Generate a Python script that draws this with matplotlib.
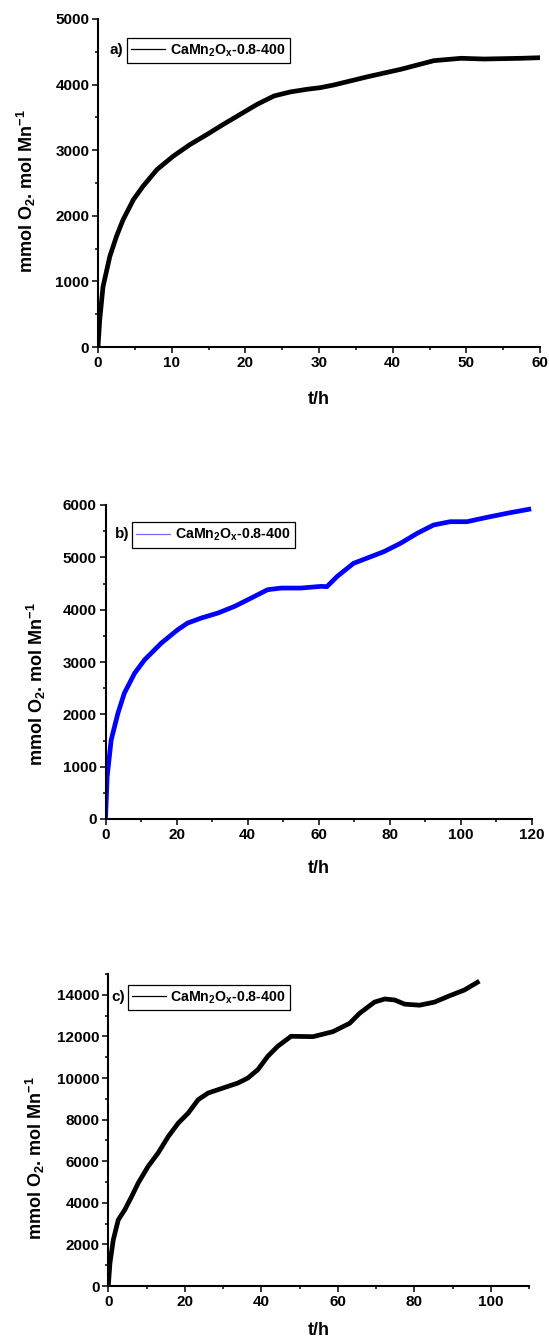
# -*- coding: utf-8 -*-

import matplotlib
matplotlib.use('Agg')
import matplotlib.pyplot as plt
from matplotlib.lines import Line2D
from matplotlib.ticker import MultipleLocator

# data (t in h, O2 in mmol / mol Mn)
#------------------------------------------------------#
ta = [0, 0.23, 0.68, 1.6, 2.5, 3.4, 4.8, 6.1, 8.0, 10.2, 12.5, 14.8, 17.0, 19.3,
      21.6, 23.9, 26.1, 28.4, 30.2, 32.0, 36.6, 41.1, 45.6, 49.3, 52.4, 57.4, 60]
va = [0, 408, 918, 1378, 1684, 1939, 2245, 2449, 2704, 2908, 3087, 3240, 3393, 3546,
      3699, 3827, 3888, 3929, 3954, 3994, 4120, 4233, 4365, 4401, 4390, 4401, 4410]

tb = [0, 0.47, 1.6, 3.5, 5.3, 8.2, 11.0, 15.7, 20.3, 23.1, 26.9, 31.6, 36.3, 41.0,
      45.6, 49.4, 55.0, 60.6, 62.3, 65.1, 69.8, 78.3, 83.0, 87.7, 92.3, 97.0, 101.7,
      107.4, 113.0, 119.1]
vb = [0, 810, 1511, 2022, 2404, 2787, 3042, 3361, 3616, 3744, 3839, 3935, 4062, 4222,
      4381, 4413, 4413, 4445, 4440, 4630, 4886, 5108, 5268, 5459, 5618, 5681, 5681,
      5765, 5842, 5918]

tc = [0, 0.43, 1.3, 2.6, 4.3, 6.1, 7.8, 10.4, 13.0, 15.7, 18.3, 20.9, 23.5, 26.1,
      28.7, 31.3, 33.9, 36.5, 39.1, 41.7, 44.3, 47.8, 53.5, 58.7, 63.1, 65.7, 69.6,
      72.3, 74.9, 77.5, 81.4, 85.3, 89.2, 93.1, 96.5]
vc = [0, 1091, 2215, 3178, 3660, 4302, 4944, 5746, 6388, 7191, 7833, 8315, 8957, 9278,
      9438, 9599, 9759, 10000, 10401, 11043, 11525, 12006, 11987, 12226, 12628, 13109,
      13650, 13800, 13750, 13550, 13500, 13650, 13950, 14230, 14600]

sample_label = r'CaMn$_2$O$_x$-0.8-400'
ylabel = r'mmol O$_2$. mol Mn$^{-1}$'
#------------------------------------------------------#

plt.rcParams['font.family'] = ['Liberation Sans', 'DejaVu Sans']
plt.rcParams['font.weight'] = 'bold'
plt.rcParams['axes.labelweight'] = 'bold'
plt.rcParams['mathtext.fontset'] = 'custom'
plt.rcParams['mathtext.rm'] = 'Liberation Sans:bold'
plt.rcParams['mathtext.it'] = 'Liberation Sans:bold'
plt.rcParams['mathtext.bf'] = 'Liberation Sans:bold'

fontsize = 11
W, H = 549., 1338.


def panel(fig, box, t, v, color, leg_color, tag, xlim, ylim, xmaj, ymaj,
          leg_xy, tag_xy, ylab_xy, xlab_y):
    # box given in pixels: left, top, right, bottom
    l, tp, r, b = box
    ax = fig.add_axes([l / W, 1 - b / H, (r - l) / W, (b - tp) / H])
    ax.plot(t, v, color=color, lw=3.4, solid_joinstyle='round')

    ax.set_xlim(*xlim)
    ax.set_ylim(*ylim)
    ax.xaxis.set_major_locator(MultipleLocator(xmaj))
    ax.xaxis.set_minor_locator(MultipleLocator(xmaj / 2))
    ax.yaxis.set_major_locator(MultipleLocator(ymaj))
    ax.yaxis.set_minor_locator(MultipleLocator(ymaj / 2))

    for s in ['top', 'right']:
        ax.spines[s].set_visible(False)
    for s in ['left', 'bottom']:
        ax.spines[s].set_linewidth(1.5)
    ax.tick_params(which='major', direction='out', length=4.3, width=1.1,
                   labelsize=fontsize, pad=2)
    ax.tick_params(which='minor', direction='out', length=2.2, width=1.1)

    ax.set_xlabel('t/h', fontsize=13)
    ax.set_ylabel(ylabel, fontsize=13)
    ax.xaxis.set_label_coords(0.5, xlab_y)
    ax.yaxis.set_label_coords(*ylab_xy)

    h = Line2D([], [], color=leg_color, lw=0.9)
    leg = ax.legend([h], [sample_label], loc='upper left', bbox_to_anchor=leg_xy,
                    borderaxespad=0, fancybox=False, framealpha=1, edgecolor='black',
                    handlelength=2.4, handletextpad=0.3, borderpad=0.32,
                    prop={'size': 10.2, 'weight': 'bold'})
    leg.get_frame().set_linewidth(0.9)
    ax.text(tag_xy[0], tag_xy[1], tag, transform=ax.transAxes, ha='right',
            va='center', fontsize=11, fontweight='bold')
    return ax


fig = plt.figure(figsize=(5.49, 13.38), dpi=100)

panel(fig, (98, 19, 540, 347), ta, va, 'black', 'black', 'a)',
      (0, 60), (0, 5000), 10, 1000,
      (0.065, 0.943), (0.057, 0.905), (-0.135, 0.475), -0.135)

panel(fig, (105.5, 505, 532, 819), tb, vb, '#0000ff', '#7070ff', 'b)',
      (0, 120), (0, 6000), 20, 1000,
      (0.062, 0.945), (0.057, 0.908), (-0.135, 0.43), -0.132)

panel(fig, (108.3, 974, 529, 1286), tc, vc, 'black', 'black', 'c)',
      (0, 110), (0, 15000), 20, 2000,
      (0.046, 0.965), (0.040, 0.926), (-0.145, 0.41), -0.115)

fig.savefig('out.png', dpi=100)
